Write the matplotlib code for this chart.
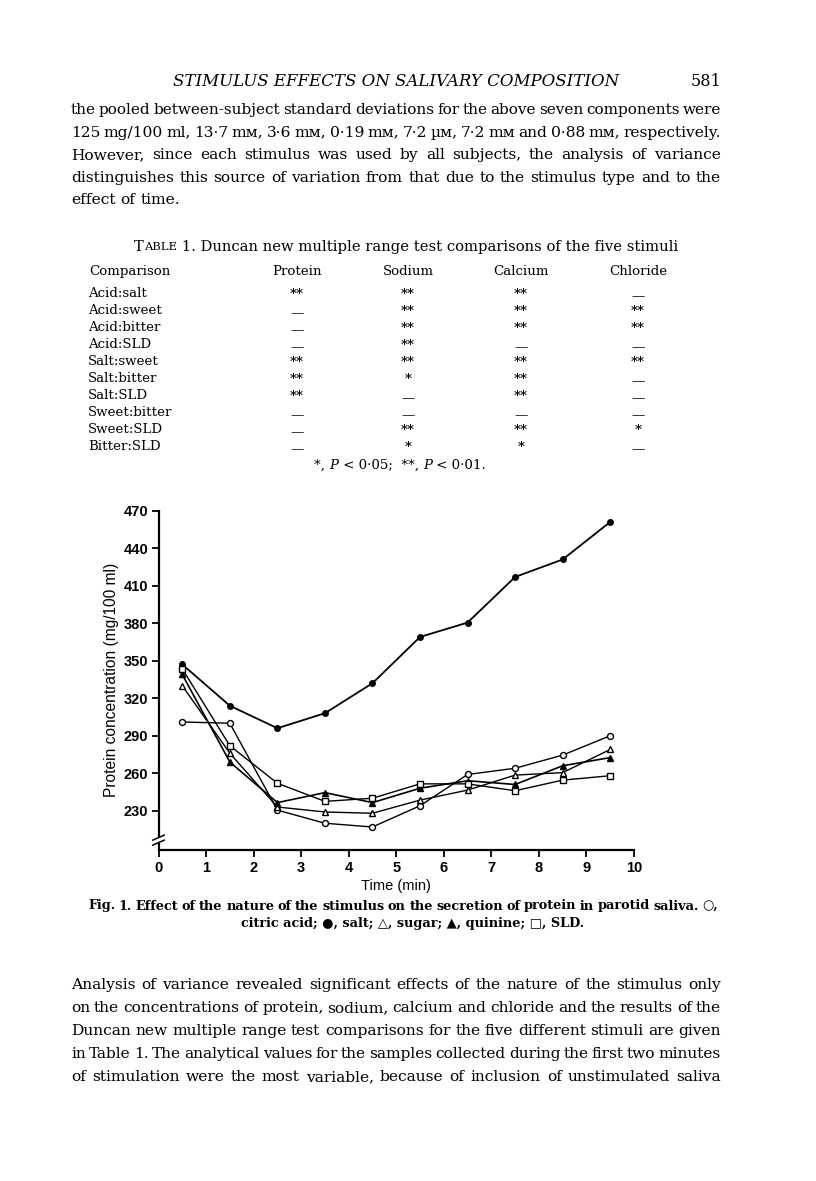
import matplotlib
matplotlib.use("Agg")
import matplotlib.pyplot as plt
import numpy as np

# ---------------- data ----------------
time_min = [0.5, 1.5, 2.5, 3.5, 4.5, 5.5, 6.5, 7.5, 8.5, 9.5]
citric_acid = [301, 300, 230.5, 220, 217, 234, 259, 264, 274.5, 290]
salt = [347, 314, 296, 308, 332, 369, 380.5, 417, 431, 461]
sugar = [330, 276, 233, 229, 228, 238.5, 246.5, 258.5, 260.5, 279]
quinine = [339, 269, 236.5, 244.5, 236.5, 248, 254, 251, 266, 272.5]
sld = [343.5, 282, 252, 237.5, 240, 251.5, 251.5, 246, 254.5, 258]
x_ticks = list(range(0, 11))
y_ticks = [230, 260, 290, 320, 350, 380, 410, 440, 470]

table_cols = ["Comparison", "Protein", "Sodium", "Calcium", "Chloride"]
table_rows = ["Acid : salt", "Acid : sweet", "Acid : bitter", "Acid : SLD", "Salt : sweet",
              "Salt : bitter", "Salt : SLD", "Sweet : bitter", "Sweet : SLD", "Bitter : SLD"]
protein_sig = ["**", "—", "—", "—", "**", "**", "**", "—", "—", "—"]
sodium_sig = ["**", "**", "**", "**", "**", "*", "—", "—", "**", "*"]
calcium_sig = ["**", "**", "**", "—", "**", "**", "**", "—", "**", "*"]
chloride_sig = ["—", "**", "**", "—", "**", "—", "—", "—", "*", "—"]

W, H = 816, 1181
fig = plt.figure(figsize=(W / 100, H / 100), dpi=100)
fig.patch.set_facecolor("white")
SERIF = ["DejaVu Serif", "DejaVu Sans"]
renderer = fig.canvas.get_renderer()


def fx(x):
    return x / W


def fy(y):
    return 1 - y / H


def width_of(s, **kw):
    kw = dict(kw)
    kw.setdefault("family", SERIF)
    t = fig.text(0, 0, s, **kw)
    w = t.get_window_extent(renderer).width
    t.remove()
    return w


def line_fit(line, target, base=10.0, **kw):
    return base * target / width_of(line, fontsize=base, **kw)


def justify(line, y, x0, x1, size, last=False, **kw):
    kw = dict(kw)
    kw.setdefault("family", SERIF)
    words = line.split(" ")
    n = len(words)
    whole = width_of(line, fontsize=size, **kw)
    extra = 0 if (last or n == 1) else (x1 - x0 - whole) / (n - 1)
    for k, w_ in enumerate(words):
        if k == 0:
            start = 0.0
        else:
            pref = " ".join(words[:k + 1])
            start = width_of(pref, fontsize=size, **kw) - width_of(w_, fontsize=size, **kw)
        fig.text(fx(x0 + start + extra * k), fy(y), w_, fontsize=size, va="center",
                 ha="left", **kw)


def size_for(line, base, target, squeeze=0.35, **kw):
    n = len(line.split(" "))
    whole = width_of(line, fontsize=base, **kw)
    sp = (width_of("a a", fontsize=base, **kw) - width_of("aa", fontsize=base, **kw))
    if whole - target <= squeeze * sp * (n - 1):
        return base
    return base * (target + squeeze * sp * (n - 1)) / whole


def runs(items, y, x=None, center=None):
    ws = [width_of(s, **kw) for s, kw in items]
    total = sum(ws)
    if center is not None:
        x = center - total / 2
    for (s, kw), w_ in zip(items, ws):
        kw = dict(kw)
        kw.setdefault("family", SERIF)
        fig.text(fx(x), fy(y), s, va="center", ha="left", **kw)
        x += w_


# ---------------- header ----------------
fig.text(fx(396), fy(81), "STIMULUS EFFECTS ON SALIVARY COMPOSITION", family=SERIF,
         style="italic", fontsize=12.0, ha="center", va="center")
fig.text(fx(721), fy(81), "581", family=SERIF, fontsize=11.5, ha="right", va="center")

X0, X1 = 71, 721
top_par = [
    "the pooled between-subject standard deviations for the above seven components were",
    "125 mg/100 ml, 13·7 mᴍ, 3·6 mᴍ, 0·19 mᴍ, 7·2 µᴍ, 7·2 mᴍ and 0·88 mᴍ, respectively.",
    "However, since each stimulus was used by all subjects, the analysis of variance",
    "distinguishes this source of variation from that due to the stimulus type and to the",
    "effect of time.",
]
bottom_par = [
    "Analysis of variance revealed significant effects of the nature of the stimulus only",
    "on the concentrations of protein, sodium, calcium and chloride and the results of the",
    "Duncan new multiple range test comparisons for the five different stimuli are given",
    "in Table 1. The analytical values for the samples collected during the first two minutes",
    "of stimulation were the most variable, because of inclusion of unstimulated saliva",
]
just_lines = top_par[:4] + bottom_par
fits = [line_fit(l, X1 - X0) for l in just_lines]
BODY = float(np.percentile(fits, 62))
for i, line in enumerate(top_par):
    last = (i == len(top_par) - 1)
    size = BODY if last else size_for(line, BODY, X1 - X0)
    justify(line, 110 + i * 22.6, X0, X1, size, last=last)

# ---------------- table ----------------
TS = 9.6
TT = 10.6
runs([("T", dict(fontsize=TT)), ("ABLE", dict(fontsize=TT * 0.78)),
      (" 1. Duncan new multiple range test comparisons of the five stimuli", dict(fontsize=TT))],
     247, center=406)
col_x = [130, 297, 408, 521, 638]
for cx, name in zip(col_x, table_cols):
    fig.text(fx(cx), fy(271.5), name, family=SERIF, fontsize=TS, ha="center", va="center")
row_y0, row_dy = 293.3, 17.0
for i, r in enumerate(table_rows):
    y = row_y0 + i * row_dy
    fig.text(fx(88), fy(y), r.replace(" : ", ":"), family=SERIF, fontsize=TS,
             ha="left", va="center")
    for cx, col in zip(col_x[1:], [protein_sig, sodium_sig, calcium_sig, chloride_sig]):
        v = col[i]
        if v == "—":
            fig.text(fx(cx), fy(y + 3), "—", family=SERIF, fontsize=TS, ha="center", va="center")
        else:
            fig.text(fx(cx), fy(y + 1), v, family=SERIF, fontsize=TS, ha="center",
                     va="center", weight="bold")
runs([("*, ", dict(fontsize=TS)), ("P", dict(fontsize=TS, style="italic")),
      (" < 0·05;  **, ", dict(fontsize=TS)), ("P", dict(fontsize=TS, style="italic")),
      (" < 0·01.", dict(fontsize=TS))], 465, center=400)

# ---------------- chart ----------------
ax = fig.add_axes([fx(158.5), fy(850), (634 - 158.5) / W, (850 - 510.7) / H])
ax.set_xlim(0, 10)
ax.set_ylim(198.6, 470)
for s in ["top", "right"]:
    ax.spines[s].set_visible(False)
for s in ["left", "bottom"]:
    ax.spines[s].set_linewidth(1.6)
ax.set_xticks(x_ticks)
ax.set_yticks(y_ticks)
ax.tick_params(axis="both", direction="out", width=1.3, length=5, labelsize=10.5)
ax.tick_params(axis="y", pad=2.5)
ax.tick_params(axis="x", pad=3)
for lab in ax.get_xticklabels() + ax.get_yticklabels():
    lab.set_family("Liberation Sans")
    lab.set_weight("bold")
ax.set_xlabel("Time (min)", family="Liberation Sans", fontsize=10.5, labelpad=3)
ax.set_ylabel("Protein concentration (mg/100 ml)", family="Liberation Sans", fontsize=11.2,
              labelpad=3)

lw = 1.0
ms = 4.3
ax.plot(time_min, salt, color="black", lw=1.3, marker="o", ms=4, mfc="black", mec="black", zorder=3)
ax.plot(time_min, citric_acid, color="black", lw=lw, marker="o", ms=ms, mfc="white", mec="black", zorder=3)
ax.plot(time_min, sugar, color="black", lw=lw, marker="^", ms=ms, mfc="white", mec="black", zorder=3)
ax.plot(time_min, quinine, color="black", lw=1.2, marker="^", ms=ms, mfc="black", mec="black", zorder=3)
ax.plot(time_min, sld, color="black", lw=lw, marker="s", ms=ms, mfc="white", mec="black", zorder=3)

# axis break on y axis
ax.plot([0, 0], [204.5, 208.5], color="white", lw=3, clip_on=False, zorder=5, solid_capstyle="butt")
ax.plot([-0.12, 0.12], [202.5, 206.5], color="black", lw=1.1, clip_on=False, zorder=6)
ax.plot([-0.12, 0.12], [206.5, 210.5], color="black", lw=1.1, clip_on=False, zorder=6)

# ---------------- caption ----------------
cap1 = "Fig. 1. Effect of the nature of the stimulus on the secretion of protein in parotid saliva. ○,"
CS = size_for(cap1, 10.0, 718 - 88, squeeze=0.3, weight="bold")
justify(cap1, 906, 88, 718, CS, weight="bold")
runs([("citric acid; ●, salt; △, sugar; ▲, quinine; □, SLD.", dict(fontsize=CS, weight="bold"))],
     923, center=413)

# ---------------- bottom paragraph ----------------
for i, line in enumerate(bottom_par):
    size = size_for(line, BODY, X1 - X0)
    justify(line, 985 + i * 23, X0, X1, size)

fig.savefig("out.png", dpi=100, facecolor="white")
